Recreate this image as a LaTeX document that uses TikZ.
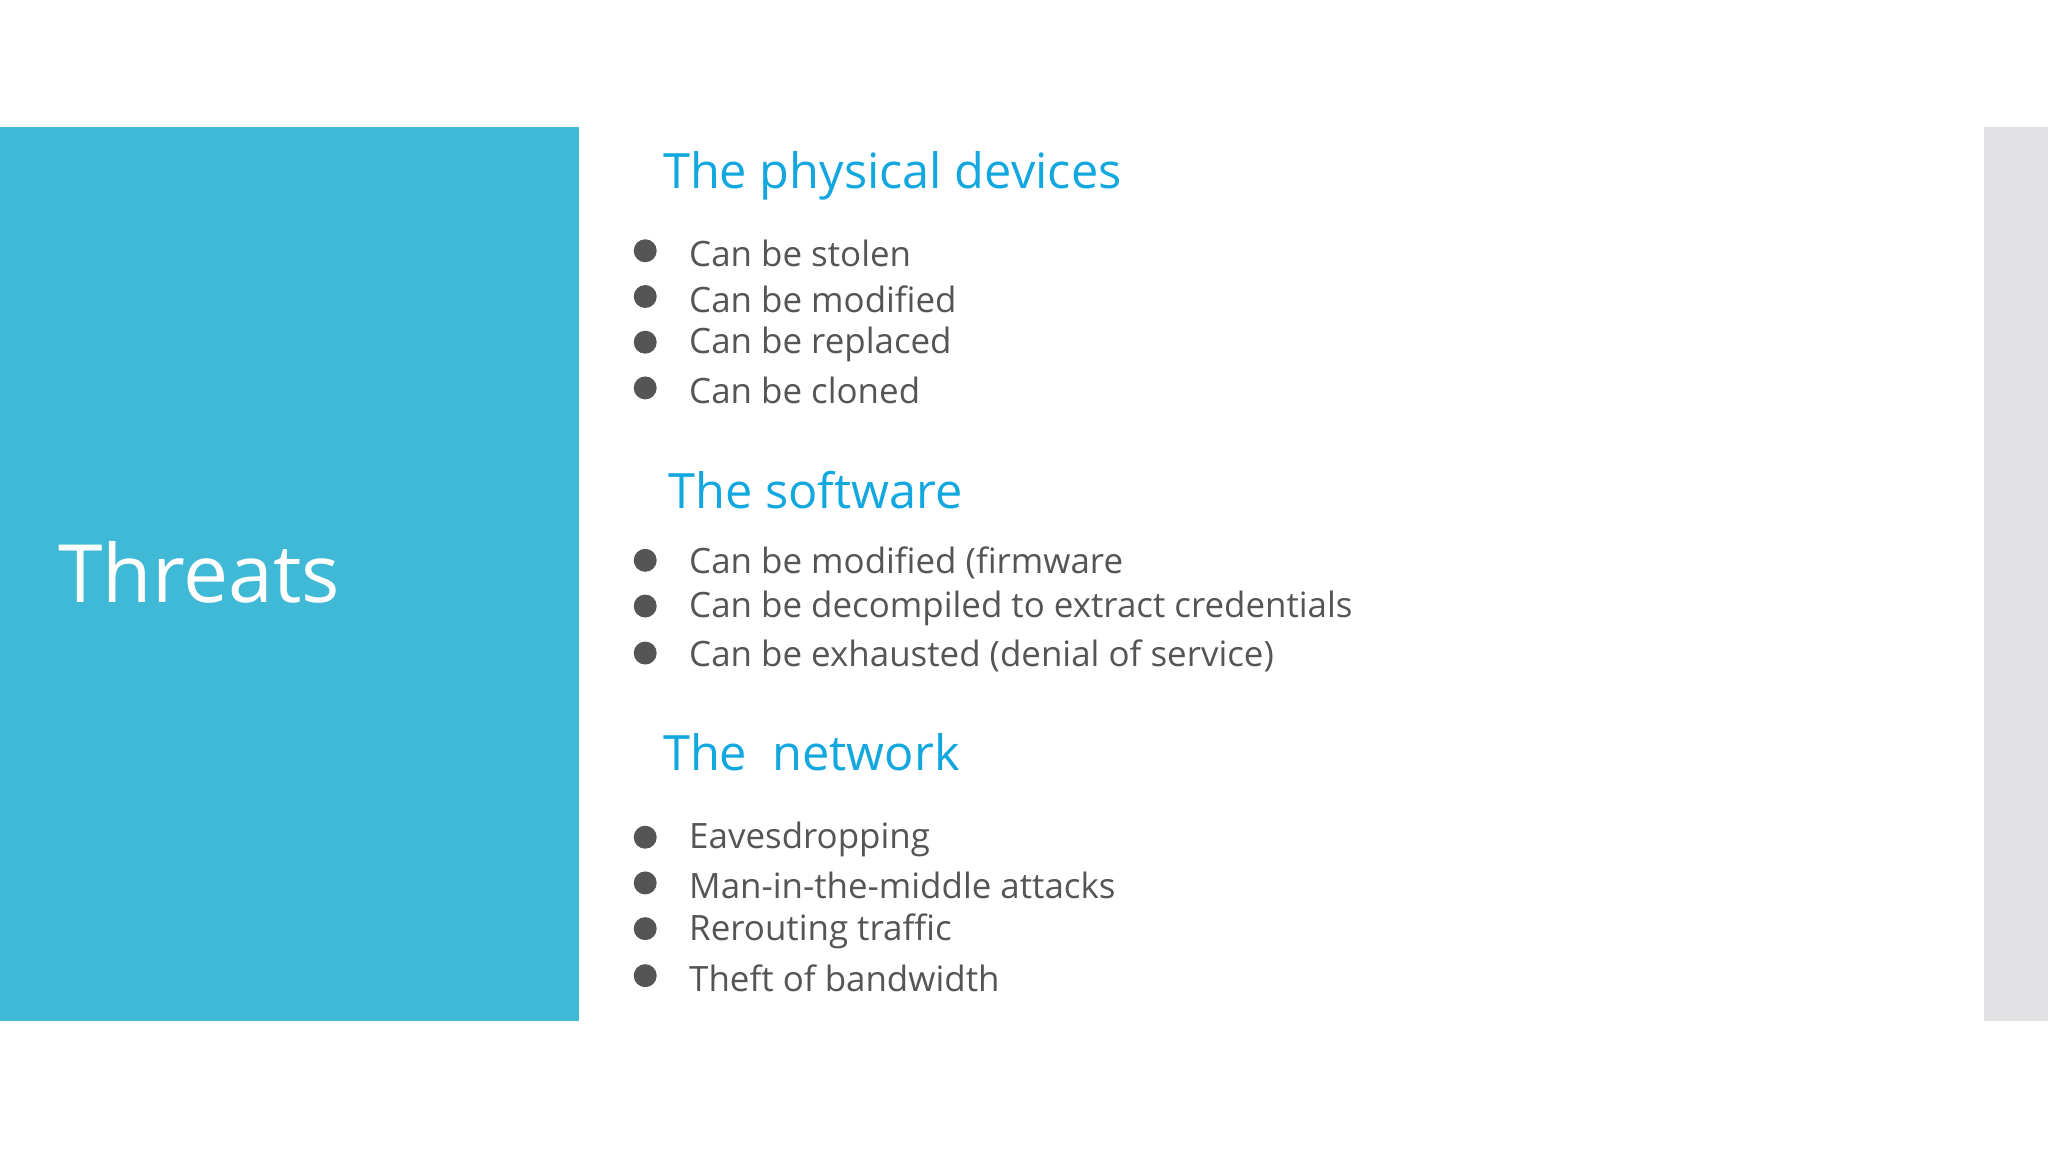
\documentclass[tikz,border=0pt]{standalone}
\usepackage{fontspec}
\setmainfont{Open Sans}
\definecolor{panel}{HTML}{3FB9D5}
\definecolor{headc}{HTML}{12A7DF}
\definecolor{bodyc}{HTML}{555555}
\definecolor{barc}{HTML}{E2E2E4}
\begin{document}
\begin{tikzpicture}[x=0.01cm,y=-0.01cm,
  head/.style={anchor=west,inner sep=0,text=headc,font=\fontsize{10.6pt}{12pt}\selectfont},
  item/.style={anchor=west,inner sep=0,text=bodyc,font=\fontsize{7.6pt}{9pt}\selectfont},
  dot/.style={circle,fill=bodyc,inner sep=0,minimum size=5}]
\useasboundingbox (0,0) rectangle (1568,882);
\fill[white] (0,0) rectangle (1568,882);
\fill[panel] (0,97) rectangle (443,782);
\fill[barc] (1519,97) rectangle (1568,782);
\node[anchor=west,inner sep=0,text=white,font=\fontsize{17.5pt}{20pt}\selectfont] (title) at (44,438) {Threats};
\node[head] (h1) at (507,135) {The physical devices};
\node[head] (h2) at (511,375) {The software};
\node[head] (h3) at (507,576) {The\ \ network};
\foreach \y/\t [count=\i] in {194/Can be stolen,229/Can be modified,264/Can be replaced,299/Can be cloned,
  431/Can be modified (firmware / OS / middleware),466/Can be decompiled to extract credentials,502/Can be exhausted (denial of service),
  643/Eavesdropping,678/Man-in-the-middle attacks,713/Rerouting traffic,749/Theft of bandwidth}{
  \node[dot] (d\i) at (494,\y-2) {};
  \node[item] (t\i) at (527,\y) {\t};
}
\end{tikzpicture}
\end{document}
